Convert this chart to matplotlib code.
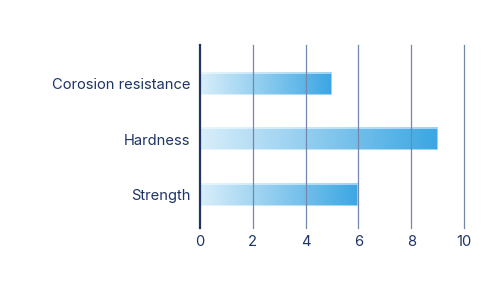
import numpy as np
import matplotlib
matplotlib.use("Agg")
import matplotlib.pyplot as plt
from matplotlib.colors import LinearSegmentedColormap

categories = ["Strength", "Hardness", "Corosion resistance"]
values = [6, 9, 5]
xticks = [0, 2, 4, 6, 8, 10]

plt.rcParams['font.family'] = ['Inter', 'DejaVu Sans']
navy = '#1e3466'

fig = plt.figure(figsize=(4.83, 2.85), dpi=100)
ax = fig.add_axes([200/483, 1-228/285, 264/483, 183/285])
ax.set_xlim(0, 10)
ax.set_ylim(-0.6, 2.7)

cmap = LinearSegmentedColormap.from_list('g', ['#d9eefa', '#3ba6e3'])
grad = np.linspace(0, 1, 256).reshape(1, -1)
h = 0.4
for i, v in enumerate(values):
    ax.imshow(grad, cmap=cmap, aspect='auto', extent=[0, v, i - h/2, i + h/2],
              zorder=1, interpolation='bilinear')
    ax.barh(i, v, height=h, color='none', edgecolor=(1, 1, 1, 0.6), linewidth=1.2, zorder=2)

ax.set_xlim(0, 10)
ax.set_ylim(-0.6, 2.7)
for x in xticks[1:]:
    ax.axvline(x, color='#7486ab', linewidth=0.9, zorder=3, clip_on=False)
ax.axvline(0, color=navy, linewidth=1.6, zorder=4, clip_on=False)

ax.set_yticks(range(len(categories)))
ax.set_yticklabels(categories)
ax.set_xticks(xticks)
ax.set_xticklabels([str(t) for t in xticks])
ax.tick_params(axis='both', length=0, labelsize=10.6, labelcolor=navy)
ax.tick_params(axis='y', pad=7)
ax.tick_params(axis='x', pad=5)
for s in ax.spines.values():
    s.set_visible(False)

fig.savefig('out.png', dpi=100)
